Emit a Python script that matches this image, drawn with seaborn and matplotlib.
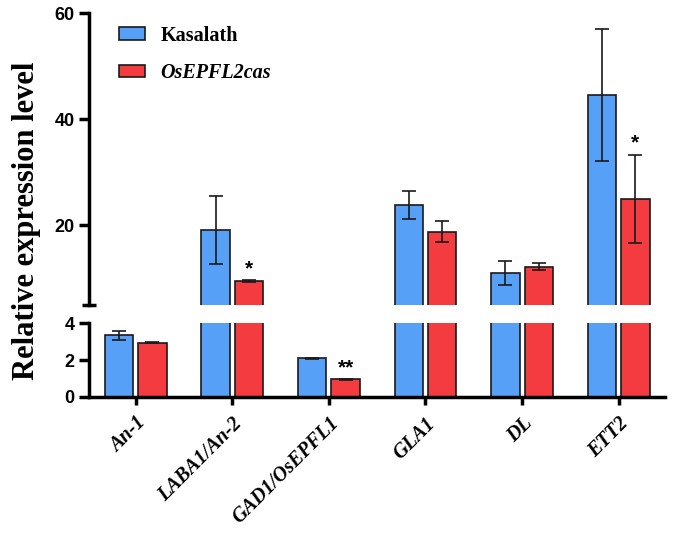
import pandas as pd
import matplotlib.pyplot as plt
import seaborn as sns
from matplotlib.patches import Patch

# values
genes = ['An-1', 'LABA1/An-2', 'GAD1/OsEPFL1', 'GLA1', 'DL', 'ETT2']
groups = ['Kasalath', 'OsEPFL2cas']
kasalath = [3.35, 19.1, 2.1, 23.8, 11.0, 44.6]
kasalath_err = [0.25, 6.4, 0.03, 2.7, 2.2, 12.4]
cas = [2.95, 9.5, 0.95, 18.8, 12.2, 25.0]
cas_err = [0.03, 0.15, 0.02, 2.05, 0.7, 8.3]
stars = ['', '*', '**', '', '', '*']

colors = {'Kasalath': '#56a0f8', 'OsEPFL2cas': '#f43c40'}

df = pd.DataFrame({
    'gene': genes * 2,
    'group': ['Kasalath'] * 6 + ['OsEPFL2cas'] * 6,
    'value': kasalath + cas,
})

sns.set_style('ticks')
plt.rcParams['font.family'] = ['Liberation Sans', 'DejaVu Sans']
plt.rcParams['text.color'] = 'black'
plt.rcParams['xtick.color'] = 'black'
plt.rcParams['ytick.color'] = 'black'
plt.rcParams['axes.edgecolor'] = 'black'

fig = plt.figure(figsize=(6.73, 5.33), dpi=100)
ax_top = fig.add_axes([0.1327, 0.4283, 0.8555, 0.5467])
ax_bot = fig.add_axes([0.1327, 0.2557, 0.8555, 0.1377])

for ax in (ax_top, ax_bot):
    sns.barplot(data=df, x='gene', y='value', hue='group', order=genes,
                hue_order=groups, palette=colors, saturation=1, width=0.69,
                gap=0.15, errorbar=None, edgecolor='#1a1a1a', linewidth=1.2,
                legend=False, ax=ax)
    for cont, err in zip(ax.containers, [kasalath_err, cas_err]):
        xs = [b.get_x() + b.get_width() / 2 for b in cont]
        ys = [b.get_height() for b in cont]
        ax.errorbar(xs, ys, yerr=err, fmt='none', ecolor='#1a1a1a',
                    elinewidth=1.2, capsize=5, capthick=1.2)
    ax.set_xlim(-0.48, 5.48)
    ax.set_xlabel('')
    ax.set_ylabel('')
    for s in ('top', 'right'):
        ax.spines[s].set_visible(False)
    ax.spines['left'].set_linewidth(2.5)
    ax.tick_params(axis='y', width=2.5, length=7)

# upper part 5-60
ax_top.set_ylim(5, 60)
ax_top.set_yticks([20, 40, 60])
ax_top.set_yticklabels(['20', '40', '60'], fontweight='bold', fontsize=13)
ax_top.set_yticks([5], minor=True)
ax_top.tick_params(axis='y', which='minor', direction='inout', length=10, width=2.5)
ax_top.spines['bottom'].set_visible(False)
ax_top.set_xticks([])

# lower part 0-4
ax_bot.set_ylim(0, 4)
ax_bot.set_yticks([0, 2, 4])
ax_bot.set_yticklabels(['0', '2', '4'], fontweight='bold', fontsize=13)
ax_bot.spines['bottom'].set_linewidth(2.5)
ax_bot.tick_params(axis='x', width=2.5, length=6, pad=6)
ax_bot.set_xticks(range(len(genes)))
ax_bot.set_xticklabels(genes, rotation=45, ha='right', rotation_mode='anchor',
                       family='Liberation Serif', fontweight='bold',
                       fontstyle='italic', fontsize=14.5)

# significance marks over the mutant bars
for ax in (ax_top, ax_bot):
    b = ax.containers[1]
    for bar, v, e, s in zip(b, cas, cas_err, stars):
        if not s:
            continue
        top = v + e
        if (ax is ax_bot) != (top > 5):
            off = 0.4 if ax is ax_top else 0.08
            ax.text(bar.get_x() + bar.get_width() / 2, top + off, s,
                    ha='center', va='bottom', fontsize=15, fontweight='bold',
                    clip_on=True)

handles = [Patch(facecolor=colors[g], edgecolor='#1a1a1a', linewidth=1.2)
           for g in groups]
leg = ax_top.legend(handles, groups, loc='upper left', frameon=False,
                    bbox_to_anchor=(0.02, 1.02), handlelength=1.3,
                    handleheight=0.55, handletextpad=0.75, labelspacing=0.85,
                    prop={'family': 'Liberation Serif', 'weight': 'bold',
                          'size': 14.5})
leg.get_texts()[1].set_fontstyle('italic')

fig.text(0.04, 0.585, 'Relative expression level', rotation=90,
         ha='center', va='center', family='Liberation Serif',
         fontweight='bold', fontsize=22)

fig.savefig('out.png', dpi=100)
plt.close(fig)
